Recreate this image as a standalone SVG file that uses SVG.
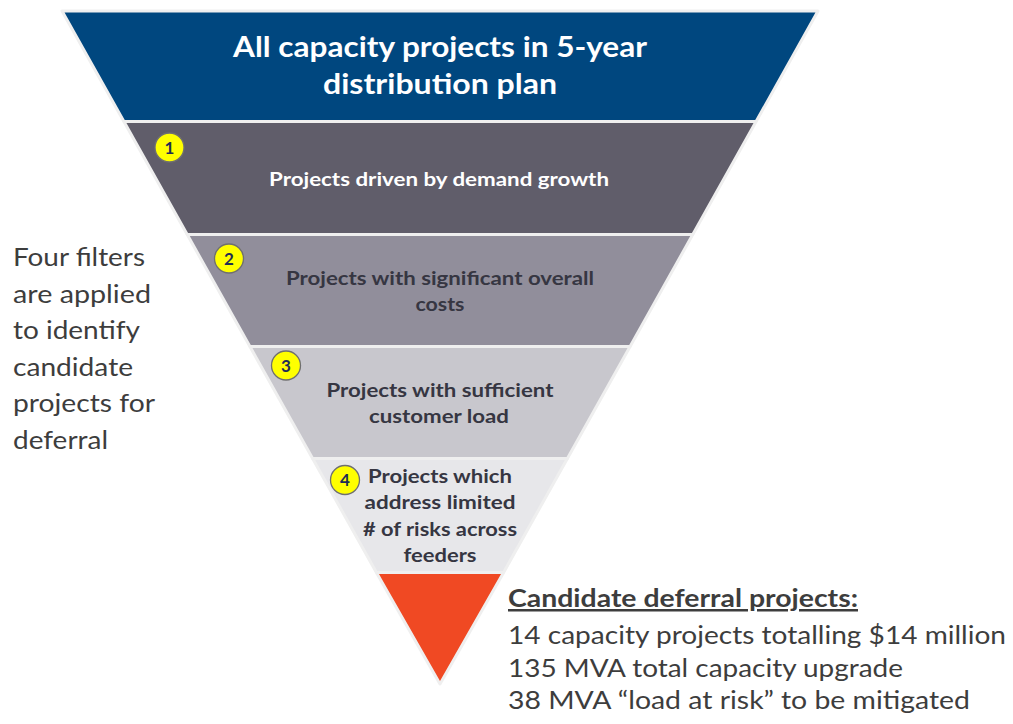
<svg xmlns="http://www.w3.org/2000/svg" width="1013" height="724" viewBox="0 0 1013 724">
<style>
.band{stroke:#efefef;stroke-width:3;stroke-linejoin:round}
.t{font-family:Lato,"Open Sans","Liberation Sans",sans-serif;text-anchor:middle;font-weight:bold}
.w{fill:#ffffff}
.d{fill:#363642}
.num{font-family:Lato,"Open Sans","Liberation Sans",sans-serif;font-weight:bold;font-size:17px;fill:#1f2d55;text-anchor:middle}
.badge{fill:#ffff00;stroke:#6f6f6f;stroke-width:1.3}
.side{font-family:Lato,"Open Sans","Liberation Sans",sans-serif;font-size:25px;fill:#3d3d3d}
</style>
<rect width="1013" height="724" fill="#ffffff"/>
<g id="connectors"/>
<g id="band-top">
<polygon class="band" fill="#00477f" points="62,11 818,11 756.1,121.5 123.9,121.5"/>
<text class="t w" x="440" y="57" font-size="28" textLength="414" lengthAdjust="spacingAndGlyphs">All capacity projects in 5-year</text>
<text class="t w" x="440" y="94" font-size="28" textLength="234" lengthAdjust="spacingAndGlyphs">distribution plan</text>
</g>
<g id="filter-1">
<polygon class="band" fill="#605d6a" points="123.9,121.5 756.1,121.5 692.8,234.5 187.2,234.5"/>
<circle class="badge" cx="169.5" cy="147.5" r="14.5"/>
<text class="num" x="169.5" y="153.5">1</text>
<text class="t w" x="439" y="186" font-size="18.5" textLength="340" lengthAdjust="spacingAndGlyphs">Projects driven by demand growth</text>
</g>
<g id="filter-2">
<polygon class="band" fill="#918e9b" points="187.2,234.5 692.8,234.5 630.1,346.5 249.9,346.5"/>
<circle class="badge" cx="229" cy="258.5" r="14.5"/>
<text class="num" x="229" y="264.5">2</text>
<text class="t d" x="440" y="285" font-size="18.5" textLength="308" lengthAdjust="spacingAndGlyphs">Projects with significant overall</text>
<text class="t d" x="440" y="311" font-size="18.5" textLength="49" lengthAdjust="spacingAndGlyphs">costs</text>
</g>
<g id="filter-3">
<polygon class="band" fill="#c8c7cd" points="249.9,346.5 630.1,346.5 567.4,458.5 312.6,458.5"/>
<circle class="badge" cx="286" cy="365.5" r="14.5"/>
<text class="num" x="286" y="371.5">3</text>
<text class="t d" x="440" y="397" font-size="18.5" textLength="227" lengthAdjust="spacingAndGlyphs">Projects with sufficient</text>
<text class="t d" x="439" y="423" font-size="18.5" textLength="140" lengthAdjust="spacingAndGlyphs">customer load</text>
</g>
<g id="filter-4">
<polygon class="band" fill="#e7e7ea" points="312.6,458.5 567.4,458.5 503.6,572.5 376.4,572.5"/>
<circle class="badge" cx="345" cy="480" r="14.5"/>
<text class="num" x="345" y="486">4</text>
<text class="t d" x="440" y="483" font-size="18.5" textLength="144" lengthAdjust="spacingAndGlyphs">Projects which</text>
<text class="t d" x="440" y="509" font-size="18.5" textLength="151" lengthAdjust="spacingAndGlyphs">address limited</text>
<text class="t d" x="440" y="536" font-size="18.5" textLength="154" lengthAdjust="spacingAndGlyphs"># of risks across</text>
<text class="t d" x="440" y="562" font-size="18.5" textLength="73" lengthAdjust="spacingAndGlyphs">feeders</text>
</g>
<g id="result">
<polygon class="band" fill="#f04923" points="376.4,572.5 503.6,572.5 440,684"/>
</g>
<g id="side-note">
<text class="side" x="13" y="266" textLength="132" lengthAdjust="spacingAndGlyphs">Four filters</text>
<text class="side" x="13" y="303" textLength="138" lengthAdjust="spacingAndGlyphs">are applied</text>
<text class="side" x="13" y="339" textLength="127" lengthAdjust="spacingAndGlyphs">to identify</text>
<text class="side" x="13" y="376" textLength="120" lengthAdjust="spacingAndGlyphs">candidate</text>
<text class="side" x="13" y="412" textLength="142" lengthAdjust="spacingAndGlyphs">projects for</text>
<text class="side" x="13" y="449" textLength="95" lengthAdjust="spacingAndGlyphs">deferral</text>
</g>
<g id="summary">
<text class="side" x="508" y="607" font-weight="bold" text-decoration="underline" textLength="350" lengthAdjust="spacingAndGlyphs">Candidate deferral projects:</text>
<text class="side" x="508" y="644" textLength="498" lengthAdjust="spacingAndGlyphs">14 capacity projects totalling $14 million</text>
<text class="side" x="508" y="677" textLength="395" lengthAdjust="spacingAndGlyphs">135 MVA total capacity upgrade</text>
<text class="side" x="508" y="709" textLength="462" lengthAdjust="spacingAndGlyphs">38 MVA “load at risk” to be mitigated</text>
</g>
</svg>
